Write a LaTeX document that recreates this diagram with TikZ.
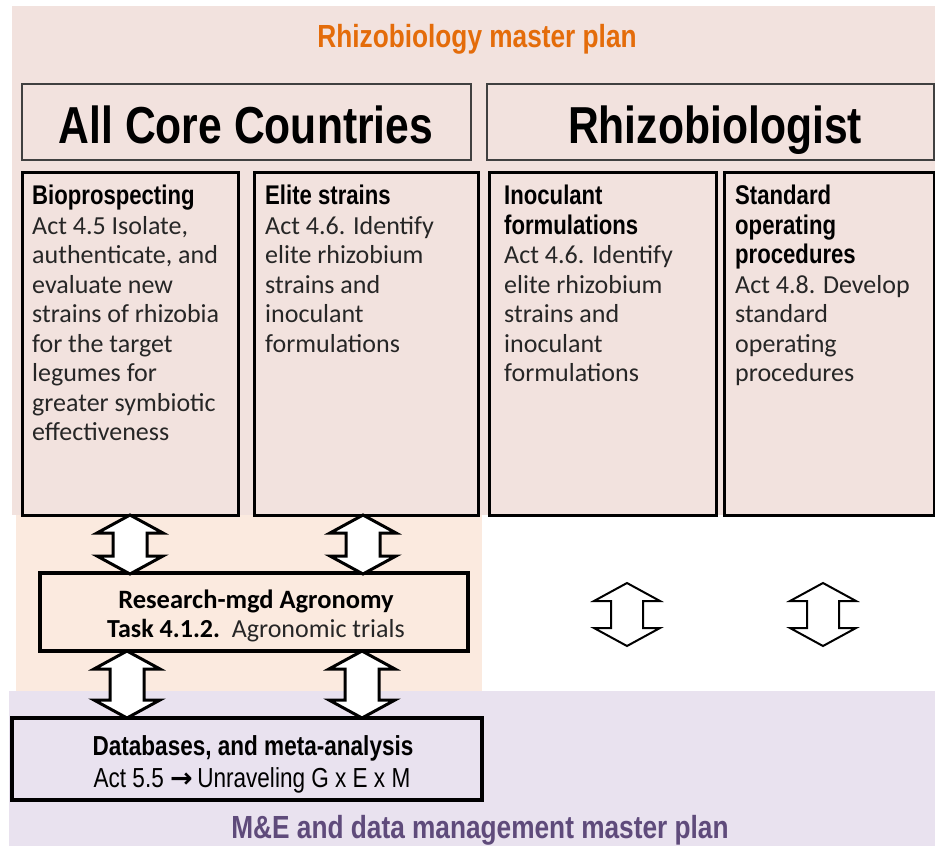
\documentclass[tikz,border=0pt]{standalone}
\usepackage{fontspec}
\setmainfont{Carlito}
\newfontfamily\arialn[FakeStretch=0.82]{Liberation Sans}
\newfontfamily\dejavu{DejaVu Sans}
\definecolor{pinkbg}{HTML}{F2E2DE}
\definecolor{peachbg}{HTML}{FBEADF}
\definecolor{lavbg}{HTML}{E9E2EF}
\definecolor{orangetxt}{HTML}{E46C0A}
\definecolor{purpletxt}{HTML}{5F4B7B}
\definecolor{bodytxt}{HTML}{262626}
\newcommand\ttl{\fontsize{27}{29.5}\selectfont\arialn\bfseries\color{black}}
\newcommand\dblarr[6]{% cx, top, bottom, head half width, shaft half width, style
  \draw[#6] (#1,#2) -- ({#1+#4},{#2+18}) -- ({#1+#5},{#2+18}) -- ({#1+#5},{#3-18})
    -- ({#1+#4},{#3-18}) -- (#1,#3) -- ({#1-#4},{#3-18}) -- ({#1-#5},{#3-18})
    -- ({#1-#5},{#2+18}) -- ({#1-#4},{#2+18}) -- cycle;}
\begin{document}
\begin{tikzpicture}[x=1pt,y=-1pt,
  hdrbox/.style={draw=black!75, line width=2pt, fill=pinkbg},
  colbox/.style={draw=black, line width=3pt, fill=pinkbg},
  body/.style={font=\fontsize{26}{29.5}\selectfont, text=bodytxt, align=left, anchor=north west, inner sep=0pt},
  bigarr/.style={draw=black, line width=3pt, fill=white, line join=miter},
  smallarr/.style={draw=black, line width=2pt, fill=white, line join=miter}]
\useasboundingbox (0,0) rectangle (935,846);
\fill[white] (0,0) rectangle (935,846);
% backgrounds
\fill[pinkbg] (12,6) rectangle (935,515);
\fill[peachbg] (16,515) rectangle (482,691);
\fill[lavbg] (9,691) rectangle (935,846);
% titles
\node[text=orangetxt, font=\fontsize{32}{36}\selectfont\arialn\bfseries, anchor=base] (ttop) at (477,47) {Rhizobiology master plan};
\node[text=purpletxt, font=\fontsize{32}{36}\selectfont\arialn\bfseries, anchor=base] (tbot) at (480,838) {M\&E and data management master plan};
% header boxes
\draw[hdrbox] (22,84) rectangle (471,160);
\node[font=\fontsize{52}{56}\selectfont\arialn\bfseries, anchor=base] (acc) at (246,143) {All Core Countries};
\draw[hdrbox] (487,84) rectangle (934,160);
\node[font=\fontsize{52}{56}\selectfont\arialn\bfseries, anchor=base] (rhz) at (715,143) {Rhizobiologist};
% column boxes
\draw[colbox] (22,172) rectangle (238,515);
\draw[colbox] (254,172) rectangle (478,515);
\draw[colbox] (489,172) rectangle (716,515);
\draw[colbox] (724,172) rectangle (934,515);
\node[body] (bio) at (32,185) {{\ttl Bioprospecting}\\Act 4.5 Isolate,\\authenticate, and\\evaluate new\\strains of rhizobia\\for the target\\legumes for\\greater symbiotic\\effectiveness};
\node[body] (eli) at (265,185) {{\ttl Elite strains}\\Act 4.6. Identify\\elite rhizobium\\strains and\\inoculant\\formulations};
\node[body] (ino) at (504,185) {{\ttl Inoculant}\\{\ttl formulations}\\Act 4.6. Identify\\elite rhizobium\\strains and\\inoculant\\formulations};
\node[body] (sop) at (735,185) {{\ttl Standard}\\{\ttl operating}\\{\ttl procedures}\\Act 4.8. Develop\\standard\\operating\\procedures};
% agronomy box
\draw[draw=black, line width=3.5pt, fill=peachbg] (40,573) rectangle (468,651);
\node[font=\fontsize{26.5}{29}\selectfont\bfseries, anchor=base] (agr1) at (256,608) {Research-mgd Agronomy};
\node[font=\fontsize{26}{29}\selectfont, text=bodytxt, anchor=base] (agr2) at (256,637) {\textbf{\color{black}Task 4.1.2.}\ \ Agronomic trials};
% databases box
\draw[draw=black, line width=3.5pt, fill=lavbg] (12,718) rectangle (482,800);
\node[font=\fontsize{27.5}{30}\selectfont\arialn\bfseries, anchor=base] (db1) at (253,755) {Databases, and meta-analysis};
\node[font=\fontsize{27.5}{30}\selectfont\arialn, anchor=base] (db2) at (252,787) {Act 5.5 {\dejavu\bfseries\fontsize{27}{30}\selectfont →}\,Unraveling G x E x M};
% arrows
\dblarr{130}{515}{574}{33}{17}{bigarr}
\dblarr{363}{515}{574}{33}{17}{bigarr}
\dblarr{127}{651}{718}{33}{17}{bigarr}
\dblarr{362}{651}{718}{33}{17}{bigarr}
\dblarr{627}{583}{646}{33}{16}{smallarr}
\dblarr{823}{583}{646}{33}{16}{smallarr}
\end{tikzpicture}
\end{document}
